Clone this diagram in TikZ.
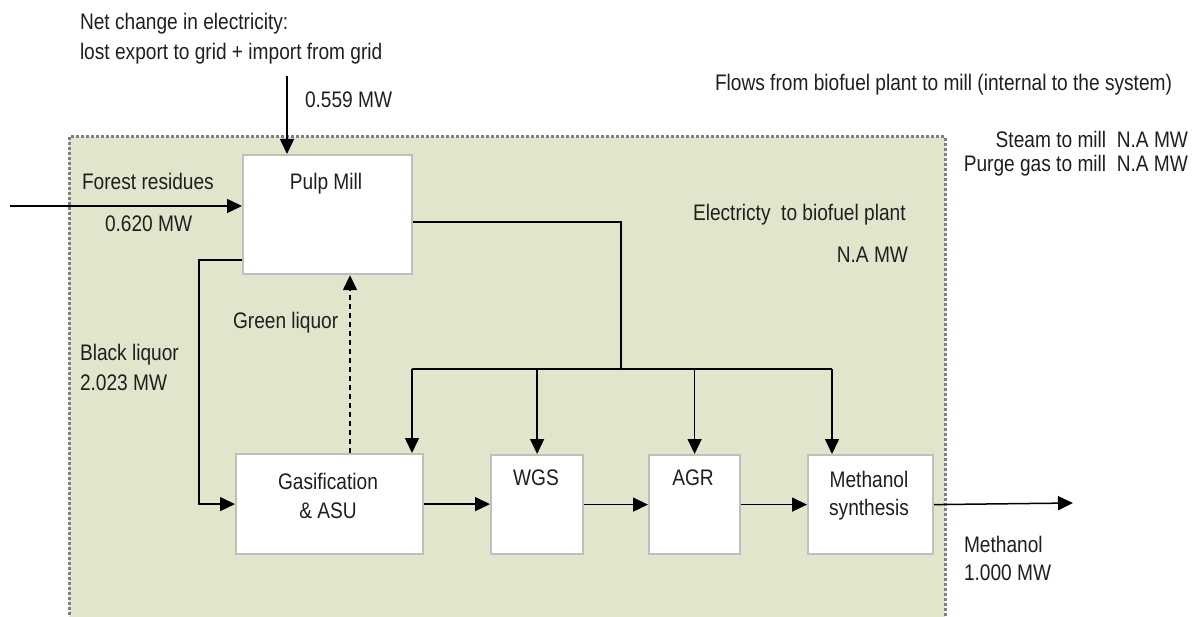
\documentclass[tikz,border=0pt]{standalone}
\usepackage{fontspec}
\setmainfont{Liberation Sans}[FakeStretch=0.85]
\usetikzlibrary{arrows.meta}
\definecolor{regionfill}{HTML}{E0E5CC}
\definecolor{regionedge}{HTML}{808080}
\definecolor{boxedge}{HTML}{BFBFBF}
\definecolor{txt}{HTML}{1F1F1F}
\tikzset{
  lbl/.style={inner sep=0pt, outer sep=0pt, text=txt, font=\fontsize{22.5}{26}\selectfont},
  proc/.style={draw=boxedge, fill=white, line width=2.2pt, inner sep=0pt},
  conn/.style={draw=black, line width=1.5pt},
  arr/.style={conn, -{Triangle[length=15pt,width=14pt]}},
}
\begin{document}
\begin{tikzpicture}[x=1pt,y=-1pt]
\useasboundingbox (0,0) rectangle (1201,617);
% system region
\fill[regionfill] (69,137) rectangle (945,617);
\draw[regionedge, line width=3pt, dash pattern=on 3pt off 2pt] (69,620) -- (69,137) -- (945,137) -- (945,620);

% process boxes
\node[proc, anchor=north west, minimum width=169pt, minimum height=119pt] (pulp) at (242,154) {};
\node[proc, anchor=north west, minimum width=187pt, minimum height=100pt] (gas) at (235,453) {};
\node[proc, anchor=north west, minimum width=92pt, minimum height=99pt] (wgs) at (490,454) {};
\node[proc, anchor=north west, minimum width=91pt, minimum height=99pt] (agr) at (648,454) {};
\node[proc, anchor=north west, minimum width=125pt, minimum height=99pt] (meth) at (807,454) {};

% box labels
\node[lbl, anchor=base] (tpulp) at (326,190) {Pulp Mill};
\node[lbl, anchor=base] (tgas1) at (328,489) {Gasification};
\node[lbl, anchor=base] (tgas2) at (328,518) {\& ASU};
\node[lbl, anchor=base] (twgs) at (536,485) {WGS};
\node[lbl, anchor=base] (tagr) at (693,485) {AGR};
\node[lbl, anchor=base] (tmeth1) at (869,487) {Methanol};
\node[lbl, anchor=base] (tmeth2) at (869,515) {synthesis};

% free ends and bends
\coordinate (elin) at (287,76);
\coordinate (fr) at (10,206);
\coordinate (blk) at (199,260);
\coordinate (gl) at (350,0);
\coordinate (e1) at (621,222);
\coordinate (bus) at (621,369);
\coordinate (bl) at (412,369);
\coordinate (br) at (832,369);
\coordinate (mout) at (1073,503);

% connectors
\draw[arr] (elin) -- (elin |- pulp.north);
\draw[arr] (fr) -- (fr -| pulp.west);
\draw[arr] (blk -| pulp.west) -- (blk) |- (gas.west);
\draw[arr, dash pattern=on 5pt off 4pt] (gl |- gas.north) -- (gl |- pulp.south);
\draw[conn] (e1 -| pulp.east) -- (e1) -- (bus);
\draw[conn] (bl) -- (br);
\draw[arr] (bl) -- (bl |- gas.north);
\draw[arr] (wgs.north |- bus) -- (wgs.north);
\draw[arr] (agr.north |- bus) -- (agr.north);
\draw[arr] (br) -- (br |- meth.north);
\draw[arr] (gas.east) -- (gas.east -| wgs.west);
\draw[arr] (wgs.east) -- (wgs.east -| agr.west);
\draw[arr] (agr.east) -- (agr.east -| meth.west);
\draw[arr] (meth.east) -- (mout);

% texts
\node[lbl, anchor=base west] (net1) at (80,30) {Net change in electricity:};
\node[lbl, anchor=base west] (net2) at (80,60) {lost export to grid + import from grid};
\node[lbl, anchor=base west] (elval) at (305,108) {0.559 MW};
\node[lbl, anchor=base west] (flows) at (715,91) {Flows from biofuel plant to mill (internal to the system)};
\node[lbl, anchor=base east] (steam) at (1188,148) {Steam to mill\ \ N.A MW};
\node[lbl, anchor=base east] (purge) at (1188,172) {Purge gas to mill\ \ N.A MW};
\node[lbl, anchor=base west] (elbio) at (693,221) {Electricty\ \ to biofuel plant};
\node[lbl, anchor=base east] (elbioval) at (908,263) {N.A MW};
\node[lbl, anchor=base west] (forest) at (82,190) {Forest residues};
\node[lbl, anchor=base west] (forestval) at (105,232) {0.620 MW};
\node[lbl, anchor=base west] (black) at (80,360) {Black liquor};
\node[lbl, anchor=base west] (blackval) at (80,390) {2.023 MW};
\node[lbl, anchor=base west] (green) at (233,329) {Green liquor};
\node[lbl, anchor=base west] (methout) at (964,552) {Methanol};
\node[lbl, anchor=base west] (methval) at (964,580) {1.000 MW};
\end{tikzpicture}
\end{document}
